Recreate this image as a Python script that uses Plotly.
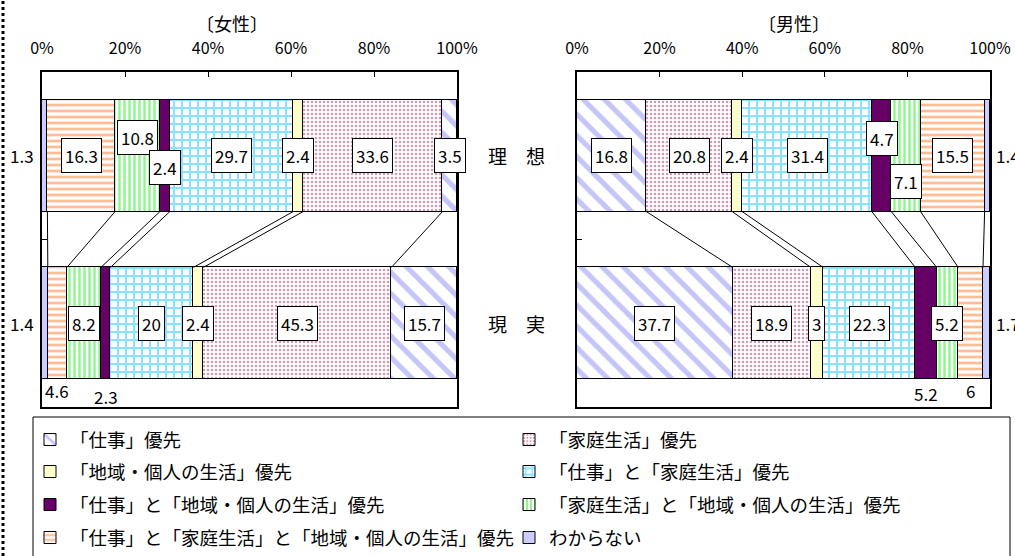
import plotly.graph_objects as go

W, H = 1015, 556

# legend order
categories = ['「仕事」優先', '「家庭生活」優先', '「地域・個人の生活」優先',
              '「仕事」と「家庭生活」優先', '「仕事」と「地域・個人の生活」優先',
              '「家庭生活」と「地域・個人の生活」優先',
              '「仕事」と「家庭生活」と「地域・個人の生活」優先', 'わからない']

female_ideal = [3.5, 33.6, 2.4, 29.7, 2.4, 10.8, 16.3, 1.3]
female_real = [15.7, 45.3, 2.4, 20, 2.3, 8.2, 4.6, 1.4]
male_ideal = [16.8, 20.8, 2.4, 31.4, 4.7, 7.1, 15.5, 1.4]
male_real = [37.7, 18.9, 3, 22.3, 5.2, 5.2, 6, 1.7]

rows = ['理　想', '現　実']
row_pos = [1, 0]
tick_vals = [0, 20, 40, 60, 80, 100]
tick_text = ['0%', '20%', '40%', '60%', '80%', '100%']

JP = 'Noto Sans CJK JP'
BAR_W = 0.667

styles = [
    dict(color='white', pattern=dict(shape='\\', fgcolor='#8c8cf0', bgcolor='white', size=15, solidity=0.35)),
    dict(color='white', pattern=dict(shape='.', fgcolor='#9c3c6c', bgcolor='white', size=4, solidity=0.35)),
    dict(color='#ffffcc'),
    dict(color='white', pattern=dict(shape='+', fgcolor='#10c8ff', bgcolor='white', size=8, solidity=0.45)),
    dict(color='#660066'),
    dict(color='white', pattern=dict(shape='|', fgcolor='#22ee22', bgcolor='white', size=5, solidity=0.5)),
    dict(color='white', pattern=dict(shape='-', fgcolor='#ff7a2a', bgcolor='white', size=6, solidity=0.45)),
    dict(color='#ccccff'),
]

# stacking order inside each panel
female_order = list(reversed(range(8)))
male_order = list(range(8))

# one legend per legend row (two entries each)
legend_names = ['legend', 'legend2', 'legend3', 'legend4']
legend_rows_y = [440, 472, 505, 538]

fig = go.Figure()

for i in female_order:
    fig.add_trace(go.Bar(
        orientation='h', x=[female_ideal[i], female_real[i]], y=row_pos,
        width=BAR_W, name=categories[i], showlegend=False,
        marker=dict(line=dict(color='black', width=1), **styles[i]),
        xaxis='x', yaxis='y', hoverinfo='skip'))

for i in male_order:
    fig.add_trace(go.Bar(
        orientation='h', x=[male_ideal[i], male_real[i]], y=row_pos,
        width=BAR_W, name=categories[i], legendrank=i + 1, legend=legend_names[i // 2],
        marker=dict(line=dict(color='black', width=1), **styles[i]),
        xaxis='x2', yaxis='y2', hoverinfo='skip'))


def cumulative(vals, order):
    out, s = [], 0
    for i in order:
        out.append((i, s, s + vals[i]))
        s += vals[i]
    return out


# labels: (panel, row, category) -> placement tweaks
special = {
    ('F', 0, 7): dict(box=False, xanchor='right', side='left'),
    ('F', 0, 5): dict(yshift=18),
    ('F', 0, 4): dict(yshift=-12),
    ('F', 1, 7): dict(box=False, xanchor='right', side='left'),
    ('F', 1, 6): dict(box=False, yshift=-67),
    ('F', 1, 4): dict(box=False, yshift=-73),
    ('M', 0, 4): dict(yshift=17),
    ('M', 0, 5): dict(yshift=-26),
    ('M', 0, 7): dict(box=False, xanchor='left', side='right'),
    ('M', 1, 4): dict(box=False, yshift=-70),
    ('M', 1, 6): dict(box=False, yshift=-67),
    ('M', 1, 7): dict(box=False, xanchor='left', side='right'),
}

panels = [('F', 'x', 'y', female_ideal, female_real, female_order),
          ('M', 'x2', 'y2', male_ideal, male_real, male_order)]

annotations = []
shapes = []
for key, xa, ya, ideal, real, order in panels:
    for r, vals in enumerate([ideal, real]):
        for i, a, b in cumulative(vals, order):
            sp = special.get((key, r, i), {})
            x = (a + b) / 2
            xshift = 0
            if sp.get('side') == 'left':
                x, xshift = 0, -6
            elif sp.get('side') == 'right':
                x, xshift = 100, 4
            txt = f'{vals[i]:g}'
            ann = dict(xref=xa, yref=ya, x=x, y=row_pos[r], text=txt, showarrow=False,
                       xanchor=sp.get('xanchor', 'center'), yanchor='middle',
                       xshift=xshift, yshift=sp.get('yshift', 0),
                       font=dict(family=JP, size=17, color='black'))
            if sp.get('box', True):
                ann.update(bgcolor='white', bordercolor='black', borderwidth=1,
                           borderpad=3, height=27)
            annotations.append(ann)
    # connector lines between the two bars
    ci = cumulative(ideal, order)
    cr = cumulative(real, order)
    for k in range(len(order) - 1):
        shapes.append(dict(type='line', xref=xa, yref=ya,
                           x0=ci[k][2], y0=row_pos[0] - BAR_W / 2,
                           x1=cr[k][2], y1=row_pos[1] + BAR_W / 2,
                           line=dict(color='black', width=1)))

for r, lab in enumerate(rows):
    annotations.append(dict(xref='paper', yref='y', x=516 / W, y=row_pos[r], text=lab,
                            showarrow=False, xanchor='center', yanchor='middle',
                            font=dict(family=JP, size=19, color='black')))

for title, cx in [('〔女性〕', 232), ('〔男性〕', 794)]:
    annotations.append(dict(xref='paper', yref='paper', x=cx / W, y=1 - 23 / H, text=title,
                            showarrow=False, xanchor='center', yanchor='middle',
                            font=dict(family=JP, size=18, color='black')))

# dotted rule on the far left
shapes.append(dict(type='line', xref='paper', yref='paper', x0=3 / W, x1=3 / W, y0=0, y1=1,
                   line=dict(color='black', width=3, dash='dot')))
# legend frame
shapes.append(dict(type='rect', xref='paper', yref='paper', x0=33 / W, x1=1010 / W,
                   y0=1 - 600 / H, y1=1 - 417 / H, line=dict(color='black', width=1),
                   fillcolor='rgba(0,0,0,0)', layer='below'))

xaxis_common = dict(range=[0, 100], side='top', tickvals=tick_vals, ticktext=tick_text,
                    ticks='inside', ticklen=5, tickcolor='black', showgrid=False,
                    zeroline=False, showline=True, mirror=True, linecolor='black',
                    linewidth=1.5, ticklabelstandoff=10, automargin=False,
                    tickfont=dict(family=JP, size=16, color='black'), fixedrange=True)
yaxis_common = dict(range=[-0.5, 1.5], tickvals=[0.5], ticks='inside', ticklen=5,
                    tickcolor='black', showticklabels=False, showgrid=False, zeroline=False,
                    showline=True, mirror=True, linecolor='black', linewidth=1.5,
                    automargin=False, fixedrange=True)

y_dom = [1 - 407 / H, 1 - 72 / H]

legends = {}
for name, yc in zip(legend_names, legend_rows_y):
    legends[name] = dict(orientation='h', x=30 / W, y=1 - yc / H, xanchor='left',
                         yanchor='middle', bgcolor='rgba(0,0,0,0)', borderwidth=0,
                         entrywidth=434, entrywidthmode='pixels', traceorder='normal',
                         font=dict(family=JP, size=18.5, color='black'))

fig.update_layout(
    width=W, height=H, margin=dict(l=0, r=0, t=0, b=0, autoexpand=False),
    paper_bgcolor='white', plot_bgcolor='white',
    barmode='stack', bargap=0,
    xaxis=dict(domain=[42 / W, 457 / W], anchor='y', **xaxis_common),
    yaxis=dict(domain=y_dom, anchor='x', **yaxis_common),
    xaxis2=dict(domain=[577 / W, 990 / W], anchor='y2', **xaxis_common),
    yaxis2=dict(domain=y_dom, anchor='x2', **yaxis_common),
    annotations=annotations, shapes=shapes,
    font=dict(family=JP, color='black'),
    **legends,
)

fig.write_html('out.html', config={'displayModeBar': False},
               post_script="document.body.style.margin='0';")
